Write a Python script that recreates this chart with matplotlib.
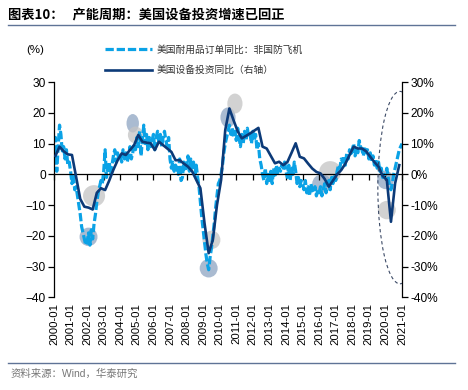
import numpy as np
import matplotlib
matplotlib.use("Agg")
import matplotlib.pyplot as plt
from matplotlib.patches import Ellipse
from matplotlib.ticker import FuncFormatter

plt.rcParams['font.family'] = ['Liberation Sans', 'Noto Sans CJK SC', 'DejaVu Sans']

# monthly: US durable goods orders ex defense & aircraft, yoy %  (2000-01 .. 2021-01)
orders_by_year = [
    [11, 12, 1, 9, 16, 13, 7, 9, 5, 8, 3, 4],              # 2000
    [1, -3, 0, -5, -4, -7, -10, -13, -17, -19, -21, -23],  # 2001
    [-22, -19, -23, -18, -21, -16, -13, -9, -6, -4, -2, -3],
    [1, 8, -1, 2, 4, 0, 3, 6, 8, 4, 7, 5],
    [6, 4, 8, 5, 7, 4, 6, 9, 5, 7, 10, 8],
    [12, 9, 14, 6, 11, 16, 10, 13, 8, 12, 9, 11],          # 2005
    [13, 8, 12, 14, 10, 13, 9, 12, 14, 11, 9, 12],
    [5, 2, 4, 1, 3, 2, 0, 5, -2, -1, 4, 1],
    [3, 6, 1, 5, 2, 4, 0, 3, -1, -4, -9, -14],
    [-18, -22, -26, -29, -31, -27, -24, -20, -16, -11, -7, -3],
    [-2, 0, 3, 7, 10, 12, 14, 16, 13, 15, 12, 14],         # 2010
    [11, 15, 12, 9, 13, 10, 14, 11, 15, 12, 13, 10],
    [14, 11, 13, 8, 10, 5, 3, 0, -2, 2, -3, 0],
    [-2, 1, -3, 2, -1, 3, 0, 2, 1, 3, 2, 4],
    [1, -1, 3, -2, 2, 0, 4, 1, -3, -1, -4, -2],
    [-3, -5, -2, -6, -4, -7, -3, -5, -6, -4, -7, -5],      # 2015
    [-6, -4, -7, -5, -3, -6, -4, -2, -5, -1, -3, 0],
    [-2, 1, 3, 2, 5, 4, 6, 3, 7, 5, 8, 6],
    [8, 10, 6, 9, 7, 11, 9, 8, 6, 9, 7, 8],
    [5, 7, 4, 6, 3, 5, 2, 4, 1, 2, -1, 0],
    [0, 2, -1, -4, -5, -3, 0, 2, 4, 6, 8, 9],              # 2020
    [10],                                                   # 2021-01
]
orders = np.array([v for yr in orders_by_year for v in yr], dtype=float)

# quarterly: US equipment investment yoy %  (2000Q1 .. 2020Q4)
equip_by_year = [
    [6, 9, 7.5, 6.5], [6.3, -0.8, -8, -10.5], [-10.8, -11.4, -6, -4.5],
    [-5.1, -2, 1.5, 4.5], [6.8, 6.3, 7.9, 9.5], [12.8, 10.6, 10.3, 10.1],
    [7.9, 10.6, 9.5, 8.4], [7.3, 4.6, 4.6, 3.5], [2.5, 1, -1.8, -4.5],
    [-15.9, -25.6, -21.3, -10], [-1.8, 14.4, 21.4, 17.6], [14, 11.7, 12.5, 13.3],
    [14.2, 15.1, 9, 8.4], [6, 3.6, 4.1, 3], [4, 7, 10.1, 5.7],
    [5.2, 3.5, 1.9, 0.8], [0.3, -1.5, -4, -2], [0, 1.4, 3.5, 6.3],
    [9, 8.4, 8.4, 7.5], [5.7, 4, 2.5, -0.5], [-1.8, -15.4, -2.9, 3],
]
equip = np.array([v for yr in equip_by_year for v in yr], dtype=float)

years = list(range(2000, 2022))
tick_labels = [f"{y}-01" for y in years]

# highlight bubbles: (month index, value, width in months, height in units, kind)
bubbles = [
    (29, -7, 16, 7, 'g'), (25, -20.3, 13, 6, 'b'),
    (57, 16.6, 9, 6, 'b'), (59, 12.8, 11, 5.5, 'g'),
    (114, -21.3, 13, 6, 'g'), (112, -30.5, 13, 6, 'b'),
    (126, 18.5, 11, 6.5, 'b'), (131, 23, 11, 6.5, 'g'),
    (200, 0.8, 16, 7, 'g'), (194, -3, 14, 6, 'b'),
    (240, -1.8, 12, 6, 'b'), (241, -11.6, 13, 6, 'g'),
]

light = '#0ba2e6'
dark = '#0c3a78'

fig = plt.figure(figsize=(4.68, 3.9), dpi=100)
ax = fig.add_axes([0.1154, 0.2372, 0.7436, 0.5525])
ax2 = ax.twinx()

xm = np.arange(len(orders))
xq = np.array([y * 12 + q * 3 + 1 for y in range(len(equip_by_year)) for q in range(4)])

for cx, cy, w, h, k in bubbles:
    col = '#c4c4c4' if k == 'g' else '#8ea5c2'
    ax.add_patch(Ellipse((cx, cy), w, h, facecolor=col, edgecolor='none', alpha=0.75, zorder=1))

l1, = ax.plot(xm, orders, color=light, lw=2.3, dashes=(2.6, 0.9), zorder=2,
              label='美国耐用品订单同比：非国防飞机')
l2, = ax2.plot(xq, equip, color=dark, lw=1.9, zorder=3, label='美国设备投资同比（右轴）')

ax2.add_patch(Ellipse((250.5, -4.3), 32, 62.5, facecolor='none', edgecolor='#3c4a66',
                      lw=0.8, ls=(0, (3, 2.5)), zorder=4))

for a in (ax, ax2):
    a.set_ylim(-40, 30)
    a.set_xlim(0, 252)
ax.set_yticks(range(-40, 31, 10))
ax2.set_yticks(range(-40, 31, 10))
ax2.yaxis.set_major_formatter(FuncFormatter(lambda v, p: f"{int(v)}%"))

# x axis line sits at zero, labels at bottom
ax.spines['bottom'].set_position(('data', 0))
ax.set_xticks([i * 12 for i in range(len(years))])
ax.tick_params(axis='x', labelbottom=False, length=4, width=0.9, direction='out')
sec = ax.secondary_xaxis('bottom')
sec.set_xticks([i * 12 for i in range(len(years))])
sec.set_xticklabels(tick_labels, rotation=90, fontsize=8.2)
sec.tick_params(length=0, pad=4)
sec.spines['bottom'].set_visible(False)

for a in (ax, ax2):
    a.spines['top'].set_visible(False)
    for s in a.spines.values():
        s.set_linewidth(0.9)
ax2.spines['bottom'].set_visible(False)
ax2.spines['left'].set_visible(False)
ax.spines['right'].set_visible(False)
ax.tick_params(axis='y', labelsize=8.6, length=4, width=0.9, pad=2)
ax2.tick_params(axis='y', labelsize=8.6, length=4, width=0.9, pad=2)

fig.legend(handles=[l1, l2], loc='upper left', bbox_to_anchor=(0.215, 0.895),
           frameon=False, fontsize=7, handlelength=4.9, handletextpad=0.5,
           labelspacing=1.05, borderaxespad=0, labelcolor='#333333')

fig.text(0.075, 0.872, '(%)', fontsize=8.2, ha='center', va='center')

fig.text(0.017, 0.962, '图表10：   产能周期：美国设备投资增速已回正', fontsize=9.5,
         fontweight='bold', ha='left', va='center', family=['Noto Sans CJK SC', 'DejaVu Sans'])
fig.add_artist(plt.Line2D([0.017, 0.973], [0.936, 0.936], color='#5f7396', lw=1.0))
fig.add_artist(plt.Line2D([0.017, 0.973], [0.069, 0.069], color='#5f7396', lw=1.0))
fig.text(0.022, 0.041, '资料来源：Wind，华泰研究', fontsize=7.5, color='#777777',
         ha='left', va='center')

fig.savefig('out.png', dpi=100)
